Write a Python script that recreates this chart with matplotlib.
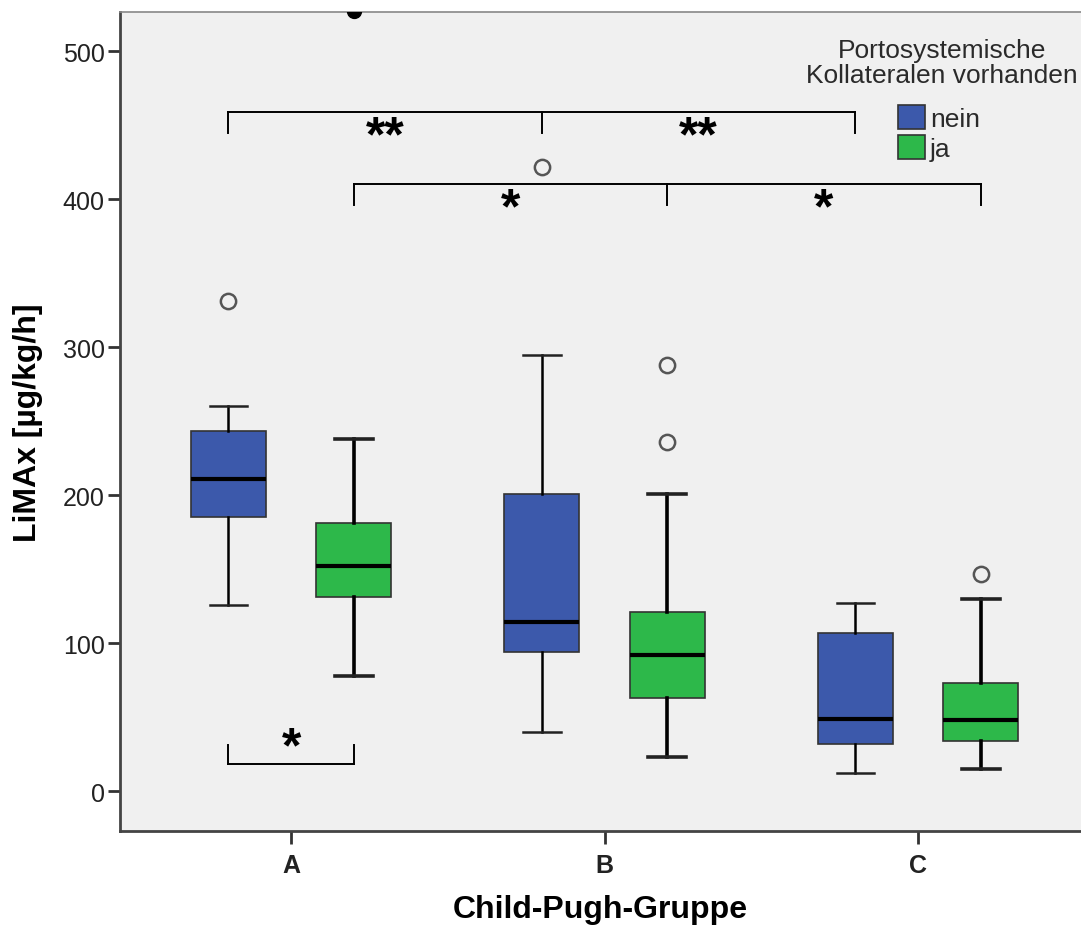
import matplotlib
matplotlib.use("Agg")
import matplotlib.pyplot as plt
from matplotlib.patches import Patch

plt.rcParams["font.family"] = ["Liberation Sans", "DejaVu Sans"]

# Box statistics (whisker low, Q1, median, Q3, whisker high)
groups = ["A", "B", "C"]
series = ["nein", "ja"]
colors = {"nein": "#3c59ab", "ja": "#2db84a"}

nein_whislo = [126, 40, 12]
nein_q1 = [185, 94, 32]
nein_med = [211, 114, 49]
nein_q3 = [243, 201, 107]
nein_whishi = [260, 295, 127]
nein_fliers = [[331], [422], []]

ja_whislo = [78, 23, 15]
ja_q1 = [131, 63, 34]
ja_med = [152, 92, 48]
ja_q3 = [181, 121, 73]
ja_whishi = [238, 201, 130]
ja_fliers = [[], [288, 236], [147]]

# extreme value (SPSS "extreme"), A / ja, sits at the top edge
extreme_group = 0
extreme_value = 527

offset = 0.2
box_w = 0.24


def make_stats(lo, q1, med, q3, hi, fl):
    return [dict(whislo=a, q1=b, med=c, q3=d, whishi=e, fliers=f)
            for a, b, c, d, e, f in zip(lo, q1, med, q3, hi, fl)]


fig = plt.figure(figsize=(10.81, 9.29), dpi=100)
ax = fig.add_axes([0.111, 0.1044, 0.889, 0.8816])
ax.set_facecolor("#f0f0f0")

flier = dict(marker="o", markerfacecolor="none", markeredgecolor="#555555",
             markersize=11, markeredgewidth=1.8)

for s, stats, lw in [("nein", make_stats(nein_whislo, nein_q1, nein_med, nein_q3, nein_whishi, nein_fliers), 1.8),
                     ("ja", make_stats(ja_whislo, ja_q1, ja_med, ja_q3, ja_whishi, ja_fliers), 2.6)]:
    pos = [i + (-offset if s == "nein" else offset) for i in range(len(groups))]
    ax.bxp(stats, positions=pos, widths=box_w, patch_artist=True,
           boxprops=dict(facecolor=colors[s], edgecolor="#333333", linewidth=1.2),
           medianprops=dict(color="black", linewidth=3),
           whiskerprops=dict(color="black", linewidth=lw),
           capprops=dict(color="#222222", linewidth=lw),
           capwidths=box_w * 0.5,
           flierprops=flier, manage_ticks=False, zorder=3)

ax.plot(extreme_group + offset, extreme_value, "o", color="black", markersize=10, zorder=4)

# significance brackets
def bracket(xs, y, drop, labels, label_y):
    ax.plot([xs[0], xs[-1]], [y, y], color="black", lw=1.4, zorder=2)
    for x in xs:
        ax.plot([x, x], [y, y + drop], color="black", lw=1.4, zorder=2)
    for (xa, xb), lab in zip(zip(xs[:-1], xs[1:]), labels):
        ax.text((xa + xb) / 2, label_y, lab, ha="center", va="center",
                fontsize=36, fontweight="bold")

bracket([i - offset for i in range(3)], 459, -14, ["**", "**"], 442)
bracket([i + offset for i in range(3)], 410, -14, ["*", "*"], 393)
bracket([0 - offset, 0 + offset], 18, 13, ["*"], 29)

ax.set_xlim(-0.546, 2.52)
ax.set_ylim(-27, 526.5)
ax.set_xticks(range(len(groups)))
ax.set_xticklabels(groups, fontsize=18, fontweight="bold")
ax.set_yticks([0, 100, 200, 300, 400, 500])
ax.tick_params(axis="y", labelsize=18, length=9, width=2, colors="#333333", pad=2)
ax.tick_params(axis="x", length=9, width=2, colors="#333333", pad=7)
for lab in ax.get_xticklabels() + ax.get_yticklabels():
    lab.set_color("#222222")

for side in ["left", "bottom"]:
    ax.spines[side].set_linewidth(2)
    ax.spines[side].set_color("#444444")
ax.spines["top"].set_linewidth(1.2)
ax.spines["top"].set_color("#888888")
ax.spines["right"].set_visible(False)

ax.set_ylabel("LiMAx [µg/kg/h]", fontsize=23, fontweight="bold", labelpad=14)
ax.set_xlabel("Child-Pugh-Gruppe", fontsize=23, fontweight="bold", labelpad=12)

# legend
ax.text(0.855, 0.968, "Portosystemische\nKollateralen vorhanden", transform=ax.transAxes,
        ha="center", va="top", fontsize=19, color="#2a2a2a", linespacing=1.05)
handles = [Patch(facecolor=colors[s], edgecolor="#333333", linewidth=1.2, label=s) for s in series]
ax.legend(handles=handles, loc="upper left", bbox_to_anchor=(0.81, 0.886),
          frameon=False, fontsize=19, handlelength=1.0, handleheight=1.0,
          handletextpad=0.2, labelspacing=0.15, borderpad=0, borderaxespad=0,
          labelcolor="#2a2a2a")

fig.savefig("out.png", dpi=100)
